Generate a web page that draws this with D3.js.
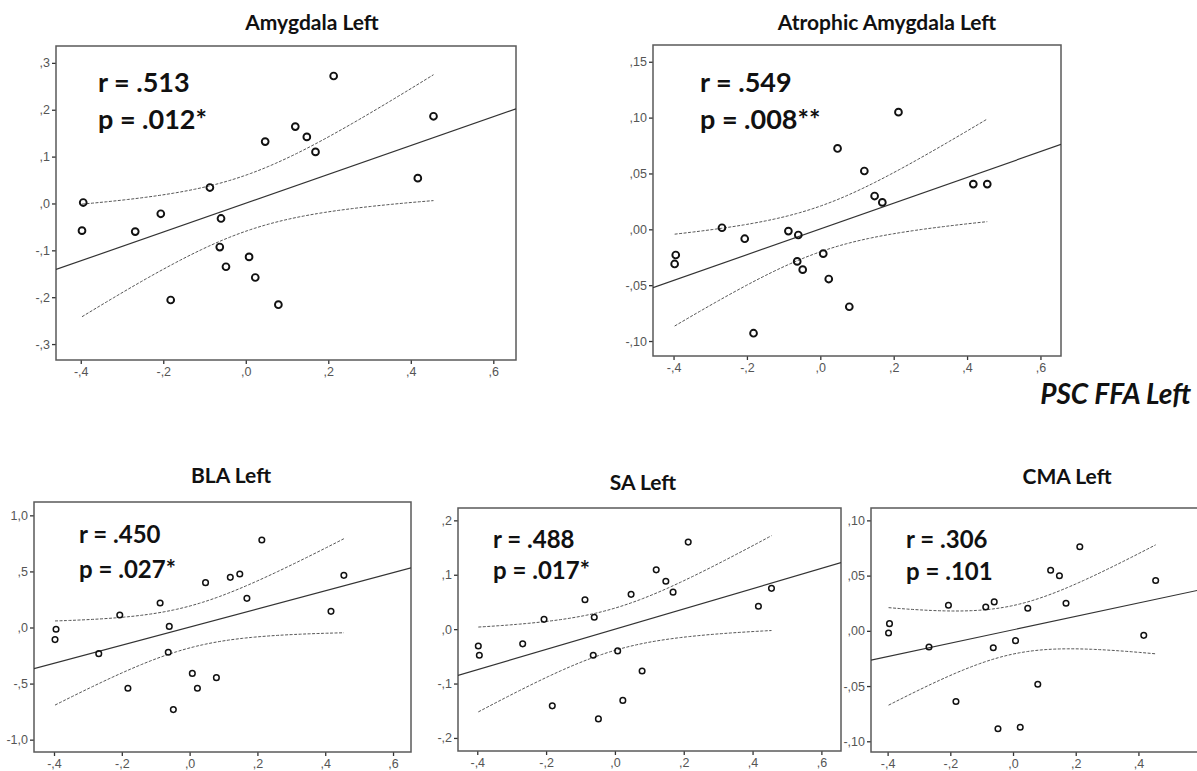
<!DOCTYPE html>
<html>
<head>
<meta charset="utf-8">
<script src="https://cdn.jsdelivr.net/npm/d3@7"></script>
<style>
  html, body { margin: 0; padding: 0; background: #fff; }
  svg { display: block; }
</style>
</head>
<body>
<svg id="chart" width="1197" height="771"></svg>
<script>
// ---------- data ----------
const pscFFALeft = [-0.394, -0.397, -0.268, -0.206, -0.182, -0.087, -0.060, -0.063, -0.048, 0.047,
                    0.008, 0.023, 0.079, 0.120, 0.148, 0.169, 0.213, 0.417, 0.455];
const amygdalaLeft = [0.002, -0.058, -0.060, -0.022, -0.206, 0.034, -0.032, -0.093, -0.135, 0.132,
                      -0.114, -0.158, -0.216, 0.164, 0.142, 0.110, 0.272, 0.054, 0.186];
const atrophicAmygdalaLeft = [-0.023, -0.031, 0.0014, -0.0084, -0.093, -0.0016, -0.0051, -0.0287, -0.0361, 0.0724,
                              -0.0218, -0.0445, -0.0693, 0.0522, 0.0298, 0.0241, 0.1049, 0.0405, 0.0405];
const blaLeft = [-0.016, -0.108, -0.233, 0.111, -0.542, 0.218, 0.010, -0.221, -0.732, 0.400,
                 -0.409, -0.542, -0.447, 0.447, 0.477, 0.260, 0.780, 0.144, 0.465];
const saLeft = [-0.048, -0.031, -0.027, 0.018, -0.141, 0.054, 0.022, -0.048, -0.165, 0.064,
                -0.040, -0.131, -0.077, 0.109, 0.088, 0.068, 0.160, 0.042, 0.075];
const cmaLeft = [0.0065, -0.002, -0.0147, 0.0231, -0.064, 0.0216, 0.0262, -0.0153, -0.0887, 0.0204,
                 -0.0089, -0.0873, -0.0483, 0.0549, 0.0498, 0.0250, 0.0761, -0.0041, 0.0455];

const panelTitles = ["Amygdala Left", "Atrophic Amygdala Left", "BLA Left", "SA Left", "CMA Left"];
const rLabels = ["r = .513", "r = .549", "r = .450", "r = .488", "r = .306"];
const pLabels = ["p = .012*", "p = .008**", "p = .027*", "p = .017*", "p = .101"];
const xAxisTitle = "PSC FFA Left";

const xTickValues = [-0.4, -0.2, 0, 0.2, 0.4, 0.6];
const xTickLabels = ["-,4", "-,2", ",0", ",2", ",4", ",6"];
const yTickValues = [
  [0.3, 0.2, 0.1, 0, -0.1, -0.2, -0.3],
  [0.15, 0.10, 0.05, 0, -0.05, -0.10],
  [1.0, 0.5, 0, -0.5, -1.0],
  [0.2, 0.1, 0, -0.1, -0.2],
  [0.10, 0.05, 0, -0.05, -0.10]
];
const yTickLabels = [
  [",3", ",2", ",1", ",0", "-,1", "-,2", "-,3"],
  [",15", ",10", ",05", ",00", "-,05", "-,10"],
  ["1,0", ",5", ",0", "-,5", "-1,0"],
  [",2", ",1", ",0", "-,1", "-,2"],
  [",10", ",05", ",00", "-,05", "-,10"]
];
const tCrit = 2.110; // t(0.975, df = 17)

// ---------- layout ----------
const panels = [
  { y: amygdalaLeft,         box: [56, 46, 516, 360],  xd: [-0.46, 0.655],  yd: [-0.334, 0.336],  big: true,
    title: [312, 30], txt: [98, 92, 129] },
  { y: atrophicAmygdalaLeft, box: [653, 45, 1061, 356], xd: [-0.456, 0.656], yd: [-0.1134, 0.165], big: true,
    title: [887, 30], txt: [700, 92, 129] },
  { y: blaLeft,              box: [34, 502, 411, 752], xd: [-0.459, 0.653], yd: [-1.11, 1.119],   big: false,
    title: [231, 483], txt: [79, 543, 578] },
  { y: saLeft,               box: [458, 508, 841, 751], xd: [-0.456, 0.657], yd: [-0.224, 0.2227], big: false,
    title: [643, 490], txt: [493, 548, 579] },
  { y: cmaLeft,              box: [871, 508, 1219, 752], xd: [-0.453, 0.657], yd: [-0.1097, 0.1112], big: false,
    title: [1067, 484], txt: [906, 548, 580] }
];

const svg = d3.select("#chart");
const W = 1197;
const axisColor = "#5a5a5a";
const labelFont = "'Liberation Sans', Arial, sans-serif";
const titleFont = "Lato, 'Open Sans', sans-serif";

function regression(xs, ys) {
  const n = xs.length;
  const mx = d3.mean(xs), my = d3.mean(ys);
  let sxx = 0, sxy = 0;
  for (let i = 0; i < n; i++) { sxx += (xs[i] - mx) ** 2; sxy += (xs[i] - mx) * (ys[i] - my); }
  const b = sxy / sxx, a = my - b * mx;
  let sse = 0;
  for (let i = 0; i < n; i++) sse += (ys[i] - a - b * xs[i]) ** 2;
  const s = Math.sqrt(sse / (n - 2));
  const half = x => tCrit * s * Math.sqrt(1 / n + (x - mx) ** 2 / sxx);
  return { a, b, half };
}

panels.forEach((p, i) => {
  const [x0, y0, x1, y1] = p.box;
  const g = svg.append("g");
  const clipId = "clip" + i;
  svg.append("clipPath").attr("id", clipId)
    .append("rect").attr("x", x0).attr("y", y0).attr("width", x1 - x0).attr("height", y1 - y0);

  const xs = d3.scaleLinear().domain(p.xd).range([x0, x1]);
  const ys = d3.scaleLinear().domain(p.yd).range([y1, y0]);

  // title
  g.append("text").attr("x", p.title[0]).attr("y", p.title[1])
    .attr("text-anchor", "middle").attr("font-family", titleFont).attr("font-weight", 700)
    .attr("font-size", 21).attr("fill", "#111").text(panelTitles[i]);

  // axes (only ticks that fall inside the visible canvas)
  const visX = xTickValues.map((v, k) => [v, xTickLabels[k]]).filter(d => xs(d[0]) < W - 8);
  const yAxis = d3.axisLeft(ys).tickValues(yTickValues[i]).tickSize(4).tickPadding(2)
    .tickFormat((d, k) => yTickLabels[i][k]);
  const xAxis = d3.axisBottom(xs).tickValues(visX.map(d => d[0])).tickSize(4).tickPadding(3)
    .tickFormat((d, k) => visX[k][1]);
  const ya = g.append("g").attr("transform", `translate(${x0},0)`).call(yAxis);
  const xa = g.append("g").attr("transform", `translate(0,${y1})`).call(xAxis);
  [ya, xa].forEach(a => {
    a.select(".domain").remove();
    a.selectAll(".tick line").attr("stroke", "#333").attr("stroke-width", 1.3);
    a.selectAll(".tick text").attr("font-family", labelFont).attr("font-size", 12.5).attr("fill", "#555");
  });

  // frame
  g.append("rect").attr("x", x0).attr("y", y0).attr("width", x1 - x0).attr("height", y1 - y0)
    .attr("fill", "none").attr("stroke", axisColor).attr("stroke-width", 1.5);

  const plot = g.append("g").attr("clip-path", `url(#${clipId})`);
  const reg = regression(pscFFALeft, p.y);

  // fit line across full x range
  plot.append("line")
    .attr("x1", xs(p.xd[0])).attr("y1", ys(reg.a + reg.b * p.xd[0]))
    .attr("x2", xs(p.xd[1])).attr("y2", ys(reg.a + reg.b * p.xd[1]))
    .attr("stroke", "#333").attr("stroke-width", 1.2);

  // confidence bands from min x to max x
  const [mn, mx] = d3.extent(pscFFALeft);
  const grid = d3.range(0, 101).map(k => mn + (mx - mn) * k / 100);
  const upper = d3.line().x(d => xs(d)).y(d => ys(reg.a + reg.b * d + reg.half(d)));
  const lower = d3.line().x(d => xs(d)).y(d => ys(reg.a + reg.b * d - reg.half(d)));
  [upper, lower].forEach(l => {
    plot.append("path").attr("d", l(grid)).attr("fill", "none")
      .attr("stroke", "#555").attr("stroke-width", 1).attr("stroke-dasharray", "3,1.5");
  });

  // points
  plot.selectAll("circle.pt").data(pscFFALeft.map((x, k) => [x, p.y[k]])).enter()
    .append("circle").attr("class", "pt")
    .attr("cx", d => xs(d[0])).attr("cy", d => ys(d[1]))
    .attr("r", p.big ? 3.4 : 2.8)
    .attr("fill", "none").attr("stroke", "#111").attr("stroke-width", p.big ? 1.9 : 1.5);

  // r / p annotations
  const fs = p.big ? 27 : 24;
  g.append("text").attr("x", p.txt[0]).attr("y", p.txt[1])
    .attr("font-family", titleFont).attr("font-weight", 700).attr("font-size", fs).attr("fill", "#111")
    .text(rLabels[i]);
  g.append("text").attr("x", p.txt[0]).attr("y", p.txt[2])
    .attr("font-family", titleFont).attr("font-weight", 700).attr("font-size", fs).attr("fill", "#111")
    .text(pLabels[i]);
});

// shared x axis title
svg.append("text").attr("x", 1191).attr("y", 404).attr("text-anchor", "end")
  .attr("font-family", titleFont).attr("font-weight", 700).attr("font-style", "italic")
  .attr("font-size", 28).attr("fill", "#111").text(xAxisTitle);
</script>
</body>
</html>
